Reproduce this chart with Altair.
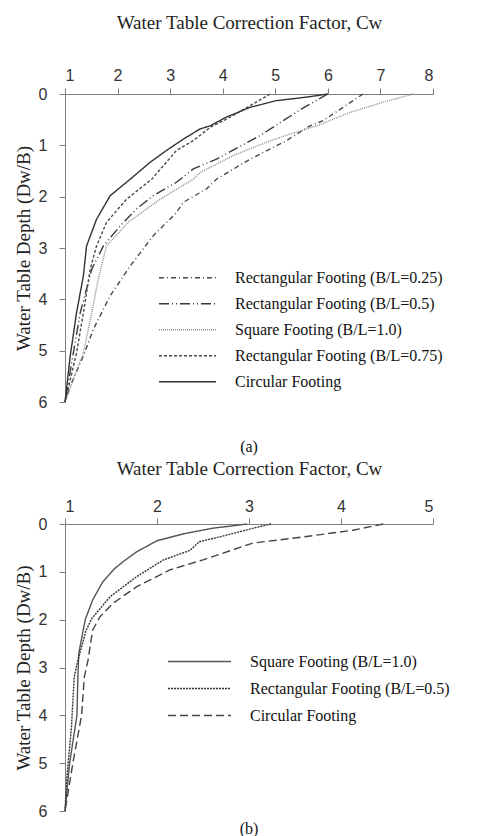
import altair as alt
import pandas as pd

# ---------------- Panel (a) ----------------
a_names = [
    "Rectangular Footing (B/L=0.25)",
    "Rectangular Footing (B/L=0.5)",
    "Square Footing (B/L=1.0)",
    "Rectangular Footing (B/L=0.75)",
    "Circular Footing",
]
a_r025_cw = [6.67, 5.91, 5.66, 5.21, 4.52, 3.88, 3.69, 3.25, 3.12, 2.68, 2.24, 1.86, 1.54, 1.35, 1.10, 1.0]
a_r025_d = [0.0, 0.52, 0.62, 0.91, 1.27, 1.66, 1.85, 2.11, 2.31, 2.76, 3.35, 3.93, 4.58, 5.10, 5.69, 6.0]
a_r05_cw = [6.0, 5.5, 5.15, 4.71, 3.88, 3.44, 3.12, 2.68, 2.36, 2.05, 1.73, 1.51, 1.29, 1.16, 1.0]
a_r05_d = [0.0, 0.29, 0.52, 0.81, 1.27, 1.46, 1.72, 1.98, 2.24, 2.57, 2.96, 3.41, 4.26, 5.04, 6.0]
a_sq_cw = [7.62, 7.05, 6.42, 5.79, 5.28, 4.83, 4.20, 3.57, 3.44, 2.81, 2.20, 1.79, 1.63, 1.51, 1.35, 1.0]
a_sq_d = [0.0, 0.16, 0.36, 0.62, 0.78, 0.94, 1.20, 1.53, 1.66, 2.05, 2.50, 2.96, 3.61, 4.26, 5.04, 6.0]
a_r075_cw = [4.9, 4.52, 4.07, 3.76, 3.44, 3.12, 2.65, 2.17, 1.79, 1.60, 1.48, 1.35, 1.22, 1.0]
a_r075_d = [0.0, 0.23, 0.49, 0.65, 0.91, 1.10, 1.66, 2.05, 2.50, 2.96, 3.41, 4.26, 5.04, 6.0]
a_circ_cw = [6.0, 5.6, 5.02, 4.52, 4.07, 3.76, 3.57, 3.25, 2.93, 2.62, 2.24, 1.86, 1.60, 1.41, 1.35, 1.22, 1.10, 1.0]
a_circ_d = [0.0, 0.06, 0.13, 0.26, 0.45, 0.62, 0.68, 0.88, 1.10, 1.33, 1.66, 1.98, 2.44, 2.96, 3.54, 4.26, 5.10, 6.0]

# ---------------- Panel (b) ----------------
b_names = [
    "Square Footing (B/L=1.0)",
    "Rectangular Footing (B/L=0.5)",
    "Circular Footing",
]
b_sq_cw = [2.98, 2.6, 2.3, 2.0, 1.78, 1.63, 1.54, 1.41, 1.30, 1.22, 1.15, 1.14, 1.13, 1.05, 1.0]
b_sq_d = [0.0, 0.09, 0.20, 0.35, 0.58, 0.79, 0.93, 1.21, 1.59, 2.0, 2.7, 3.2, 4.0, 5.0, 6.0]
b_r05_cw = [3.24, 3.04, 2.68, 2.46, 2.36, 2.07, 1.78, 1.49, 1.29, 1.23, 1.14, 1.10, 1.07, 1.02, 1.0]
b_r05_d = [0.0, 0.09, 0.27, 0.37, 0.55, 0.75, 1.10, 1.52, 1.98, 2.22, 2.85, 3.2, 4.25, 5.3, 6.0]
b_circ_cw = [4.46, 4.13, 3.59, 3.04, 2.5, 2.14, 1.78, 1.52, 1.38, 1.30, 1.25, 1.21, 1.18, 1.09, 1.0]
b_circ_d = [0.0, 0.13, 0.27, 0.40, 0.75, 0.96, 1.31, 1.66, 1.94, 2.22, 2.85, 3.2, 4.0, 4.95, 6.0]

x_title = "Water Table Correction Factor, Cw"
y_title = "Water Table Depth (Dw/B)"
a_ticks = [1, 2, 3, 4, 5, 6, 7, 8]
b_ticks = [1, 2, 3, 4, 5]
y_ticks = [0, 1, 2, 3, 4, 5, 6]


def long_df(names, cws, ds, field):
    rows = []
    for n, cw, d in zip(names, cws, ds):
        for i, (c, dd) in enumerate(zip(cw, d)):
            rows.append({field: n, "cw": c, "depth": dd, "i": i})
    return pd.DataFrame(rows)


df_a = long_df(a_names, [a_r025_cw, a_r05_cw, a_sq_cw, a_r075_cw, a_circ_cw],
               [a_r025_d, a_r05_d, a_sq_d, a_r075_d, a_circ_d], "series_a")
df_b = long_df(b_names, [b_sq_cw, b_r05_cw, b_circ_cw], [b_sq_d, b_r05_d, b_circ_d], "series_b")

SERIF = "Liberation Serif"
TICKF = "Liberation Sans"
AX = "#7f7f7f"


def panel(df, field, names, dashes, colors, ticks, xmax, legx, legy, rowh, symlen,
          lab_off, title_pad, label_pad, height, caption, cap_offset):
    leg = alt.Legend(
        orient="none", legendX=legx, legendY=legy, title=None,
        symbolType="stroke", symbolSize=symlen * symlen, symbolStrokeWidth=1.4,
        labelFont=SERIF, labelFontSize=16, labelColor="#111", labelOffset=lab_off,
        labelLimit=400, clipHeight=rowh, rowPadding=0, padding=0,
    )
    x = alt.X(
        "cw:Q",
        scale=alt.Scale(domain=[1, xmax], nice=False, zero=False),
        axis=alt.Axis(
            orient="top", title=x_title, values=ticks, format="d", grid=False,
            domainColor=AX, tickColor=AX, tickSize=6, labelPadding=label_pad,
            labelFont=TICKF, labelFontSize=16, labelColor="#333",
            titleFont=SERIF, titleFontSize=19, titleFontWeight="normal",
            titleColor="#222", titlePadding=title_pad,
        ),
    )
    y = alt.Y(
        "depth:Q",
        scale=alt.Scale(domain=[0, 6], reverse=True, nice=False, zero=False),
        axis=alt.Axis(
            title=y_title, values=y_ticks, format="d", grid=False,
            domainColor=AX, tickColor=AX, tickSize=6, labelPadding=12,
            labelFont=TICKF, labelFontSize=16, labelColor="#333",
            titleFont=SERIF, titleFontSize=19, titleFontWeight="normal",
            titleColor="#222", titlePadding=5,
        ),
    )
    return (
        alt.Chart(df)
        .mark_line(strokeWidth=1.4)
        .encode(
            x=x, y=y, order="i:Q",
            strokeDash=alt.StrokeDash(f"{field}:N", scale=alt.Scale(domain=names, range=dashes), legend=leg),
            color=alt.Color(f"{field}:N", scale=alt.Scale(domain=names, range=colors), legend=leg),
        )
        .properties(
            width=368, height=height,
            title=alt.TitleParams(caption, orient="bottom", font=SERIF, fontSize=16,
                                  fontWeight="normal", color="#111", offset=cap_offset,
                                  anchor="middle", frame="group"),
        )
    )


chart_a = panel(
    df_a, "series_a", a_names,
    [[5, 3, 1, 3], [10, 3, 1, 3, 1, 3], [1, 1], [3, 2], [1, 0]],
    ["#4a4a4a", "#3a3a3a", "#8c8c8c", "#4a4a4a", "#333333"],
    a_ticks, 8, 93, 171, 25.5, 57, 18, 35, 5, 308, "(a)", 29,
)
chart_b = panel(
    df_b, "series_b", b_names,
    [[1, 0], [2, 1], [8, 4]],
    ["#555555", "#333333", "#444444"],
    b_ticks, 5, 102, 124, 27, 63, 18, 20, 4, 287, "(b)", 2,
)

chart = (
    alt.vconcat(chart_a, chart_b, spacing=4)
    .resolve_scale(color="independent", strokeDash="independent")
    .resolve_legend(color="independent", strokeDash="independent")
    .properties(padding={"top": 5, "left": 6, "right": 0, "bottom": 0})
    .configure_view(stroke=None)
)
chart.save("out.html", embed_options={"renderer": "svg", "actions": False})
